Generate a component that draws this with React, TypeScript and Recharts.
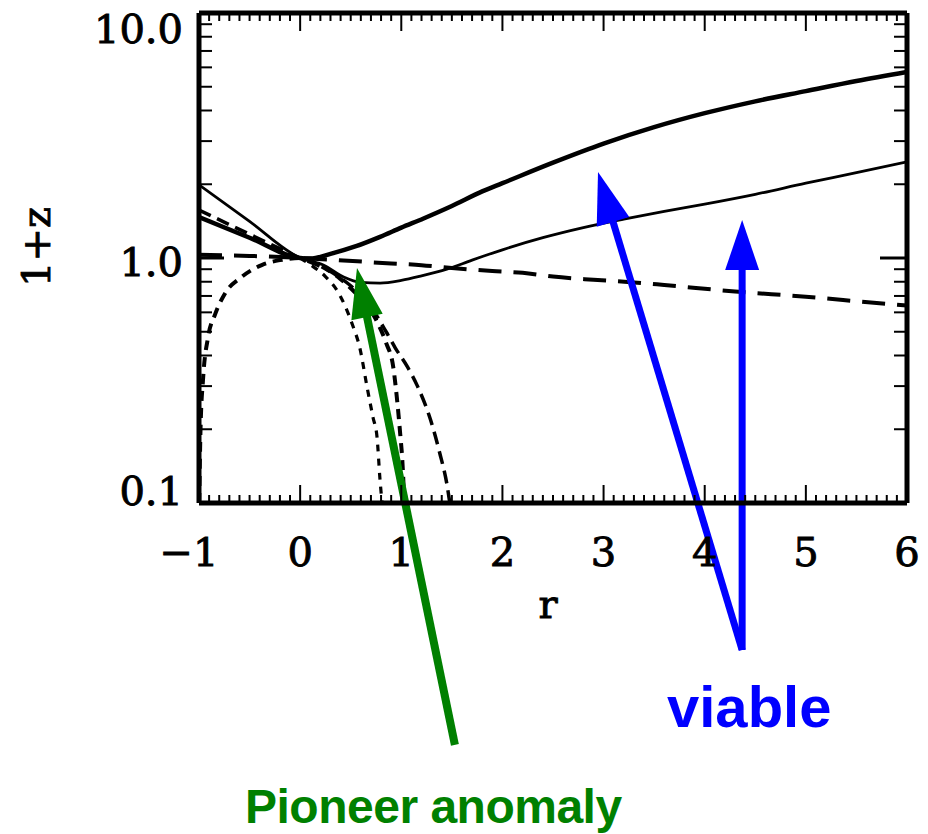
import React from 'react';
import { LineChart, Line, XAxis, YAxis, ReferenceLine } from 'recharts';

// ---- data (r, 1+z) ----
const thickSolid = [
  { r: -1, v: 1.47 }, { r: -0.5, v: 1.21 }, { r: 0, v: 1.0 }, { r: 0.1, v: 0.995 },
  { r: 0.3, v: 1.04 }, { r: 0.56, v: 1.12 }, { r: 0.79, v: 1.22 }, { r: 1.0, v: 1.33 },
  { r: 1.22, v: 1.45 }, { r: 1.5, v: 1.63 }, { r: 1.8, v: 1.87 }, { r: 2.0, v: 2.02 },
  { r: 2.5, v: 2.45 }, { r: 3.0, v: 2.93 }, { r: 3.5, v: 3.42 }, { r: 4.0, v: 3.9 },
  { r: 4.5, v: 4.36 }, { r: 5.0, v: 4.8 }, { r: 5.5, v: 5.28 }, { r: 6.0, v: 5.75 },
];
const thinSolid = [
  { r: -1, v: 1.99 }, { r: -0.5, v: 1.41 }, { r: 0, v: 1.0 }, { r: 0.23, v: 0.937 },
  { r: 0.43, v: 0.836 }, { r: 0.6, v: 0.795 }, { r: 0.79, v: 0.79 }, { r: 1.0, v: 0.81 },
  { r: 1.2, v: 0.845 }, { r: 1.45, v: 0.9 }, { r: 1.7, v: 0.98 }, { r: 2.0, v: 1.08 },
  { r: 2.4, v: 1.21 }, { r: 2.8, v: 1.33 }, { r: 3.2, v: 1.44 }, { r: 3.6, v: 1.55 },
  { r: 4.0, v: 1.66 }, { r: 4.5, v: 1.82 }, { r: 5.0, v: 2.02 }, { r: 5.5, v: 2.23 },
  { r: 6.0, v: 2.47 },
];
const flatDash = [
  { r: -1, v: 1.03 }, { r: -0.5, v: 1.02 }, { r: 0, v: 1.0 }, { r: 0.38, v: 0.98 },
  { r: 0.9, v: 0.95 }, { r: 1.2, v: 0.935 }, { r: 1.5, v: 0.91 }, { r: 1.9, v: 0.885 },
  { r: 2.2, v: 0.87 }, { r: 2.5, v: 0.84 }, { r: 2.9, v: 0.815 }, { r: 3.3, v: 0.795 },
  { r: 3.6, v: 0.776 }, { r: 4.3, v: 0.73 }, { r: 5.0, v: 0.695 }, { r: 5.7, v: 0.655 },
  { r: 6.0, v: 0.64 },
];
const shortDash = [
  { r: 0, v: 1.0 }, { r: 0.1, v: 0.94 }, { r: 0.25, v: 0.84 }, { r: 0.38, v: 0.72 },
  { r: 0.52, v: 0.53 }, { r: 0.59, v: 0.43 }, { r: 0.66, v: 0.3 }, { r: 0.72, v: 0.224 },
  { r: 0.76, v: 0.186 }, { r: 0.79, v: 0.124 }, { r: 0.81, v: 0.1 },
];
const mediumDash = [
  { r: -0.998, v: 0.1 }, { r: -0.985, v: 0.2 }, { r: -0.96, v: 0.32 }, { r: -0.91, v: 0.476 },
  { r: -0.84, v: 0.59 }, { r: -0.74, v: 0.72 }, { r: -0.58, v: 0.836 }, { r: -0.38, v: 0.936 },
  { r: -0.2, v: 0.98 }, { r: 0, v: 1.0 }, { r: 0.2, v: 0.93 }, { r: 0.4, v: 0.82 },
  { r: 0.6, v: 0.68 }, { r: 0.75, v: 0.56 }, { r: 0.85, v: 0.45 }, { r: 0.92, v: 0.36 },
  { r: 0.96, v: 0.26 }, { r: 0.99, v: 0.19 }, { r: 1.01, v: 0.15 }, { r: 1.03, v: 0.1 },
];
const longDash = [
  { r: -1, v: 1.57 }, { r: -0.5, v: 1.25 }, { r: 0, v: 1.0 }, { r: 0.3, v: 0.88 },
  { r: 0.5, v: 0.77 }, { r: 0.7, v: 0.63 }, { r: 0.85, v: 0.5 }, { r: 0.94, v: 0.43 },
  { r: 1.06, v: 0.36 }, { r: 1.16, v: 0.3 }, { r: 1.29, v: 0.218 }, { r: 1.38, v: 0.16 },
  { r: 1.45, v: 0.12 }, { r: 1.48, v: 0.1 },
];

// ---- ticks ----
const xMajorTicks = [-1, 0, 1, 2, 3, 4, 5, 6];
const xMajorLabels = ['\u22121', '0', '1', '2', '3', '4', '5', '6'];
const xMinorTicks = [
  -0.9, -0.8, -0.7, -0.6, -0.5, -0.4, -0.3, -0.2, -0.1,
  0.1, 0.2, 0.3, 0.4, 0.5, 0.6, 0.7, 0.8, 0.9,
  1.1, 1.2, 1.3, 1.4, 1.5, 1.6, 1.7, 1.8, 1.9,
  2.1, 2.2, 2.3, 2.4, 2.5, 2.6, 2.7, 2.8, 2.9,
  3.1, 3.2, 3.3, 3.4, 3.5, 3.6, 3.7, 3.8, 3.9,
  4.1, 4.2, 4.3, 4.4, 4.5, 4.6, 4.7, 4.8, 4.9,
  5.1, 5.2, 5.3, 5.4, 5.5, 5.6, 5.7, 5.8, 5.9,
];
const yMajorTicks = [0.1, 1, 10];
const yMajorLabels = ['0.1', '1.0', '10.0'];
const yMinorTicks = [0.2, 0.3, 0.4, 0.5, 0.6, 0.7, 0.8, 0.9, 2, 3, 4, 5, 6, 7, 8, 9];

// ---- annotations (data coordinates: tail -> tip) ----
const greenArrow = [{ x: 1.53, y: 0.0103 }, { x: 0.562, y: 0.91 }];
const blueArrowDiag = [{ x: 4.37, y: 0.0251 }, { x: 2.945, y: 2.244 }];
const blueArrowVert = [{ x: 4.37, y: 0.0251 }, { x: 4.37, y: 1.429 }];

const SERIF = '"DejaVu Serif", "Liberation Serif", serif';
const SANS = '"Liberation Sans", Arial, Helvetica, sans-serif';
const GREEN = '#008000';
const BLUE = '#0000ff';

const Empty = () => <g />;

const XTick = (props: any) => {
  const { x, y, payload } = props;
  const i = xMajorTicks.indexOf(payload.value);
  const label = i >= 0 ? xMajorLabels[i] : '';
  const dx = payload.value < 0 ? -10 : 0;
  return (
    <text x={x + dx} y={y} textAnchor="middle" fontFamily={SERIF}
      fontSize={40} fill="#000" stroke="#000" strokeWidth={0.9}>{label}</text>
  );
};

const YTick = (props: any) => {
  const { x, y, payload } = props;
  const v = payload.value;
  const i = yMajorTicks.indexOf(v);
  const label = i >= 0 ? yMajorLabels[i] : '';
  const dy = v === 10 ? 30 : v === 0.1 ? 2 : 18;
  return (
    <text x={x} y={y + dy} textAnchor="end" fontFamily={SERIF}
      fontSize={40} fill="#000" stroke="#000" strokeWidth={0.9}>{label}</text>
  );
};

const makeArrow = (color: string, shaft: number, headL: number, headW: number) => (props: any) => {
  const { x1, y1, x2, y2 } = props;
  const dx = x2 - x1;
  const dy = y2 - y1;
  const len = Math.hypot(dx, dy) || 1;
  const ux = dx / len;
  const uy = dy / len;
  const px = -uy;
  const py = ux;
  const bx = x2 - ux * headL;
  const by = y2 - uy * headL;
  return (
    <g>
      <line x1={x1} y1={y1} x2={bx + ux * 2} y2={by + uy * 2} stroke={color} strokeWidth={shaft} />
      <polygon
        points={`${x2},${y2} ${bx + px * headW},${by + py * headW} ${bx - px * headW},${by - py * headW}`}
        fill={color}
      />
    </g>
  );
};

export default function App() {
  const common = {
    xAxisId: 'x',
    yAxisId: 'y',
    dataKey: 'v',
    dot: false,
    activeDot: false,
    isAnimationActive: false,
    stroke: '#000',
    type: 'monotone' as const,
  };
  const tl2 = { stroke: '#000', strokeWidth: 2 };
  const tl3 = { stroke: '#000', strokeWidth: 3 };
  const frame = { stroke: '#000', strokeWidth: 5 };
  return (
    <div style={{ position: 'absolute', left: 0, top: 0, width: 928, height: 834 }}>
      <LineChart width={928} height={834} margin={{ top: 11, right: 19, bottom: 329, left: 197 }}>
        {/* major axes (frame) */}
        <XAxis xAxisId="x" orientation="bottom" type="number" dataKey="r" domain={[-1, 6]}
          allowDataOverflow ticks={xMajorTicks} interval={0} tickSize={-18} tickMargin={81} height={1}
          axisLine={frame} tickLine={tl2} tick={XTick} />
        <XAxis xAxisId="xt" orientation="top" type="number" dataKey="r" domain={[-1, 6]}
          allowDataOverflow ticks={xMajorTicks} interval={0} tickSize={-18} height={1}
          axisLine={frame} tickLine={tl2} tick={Empty} />
        <YAxis yAxisId="y" orientation="left" scale="log" domain={[0.1, 10]} allowDataOverflow
          ticks={yMajorTicks} interval={0} tickSize={-25} tickMargin={41} width={1}
          axisLine={frame} tickLine={tl3} tick={YTick} />
        <YAxis yAxisId="yr" orientation="right" scale="log" domain={[0.1, 10]} allowDataOverflow
          ticks={yMajorTicks} interval={0} tickSize={-27} width={1}
          axisLine={frame} tickLine={tl3} tick={Empty} />
        {/* minor ticks */}
        <XAxis xAxisId="xb2" orientation="bottom" type="number" dataKey="r" domain={[-1, 6]}
          allowDataOverflow ticks={xMinorTicks} interval={0} tickSize={-9} height={1}
          axisLine={false} tickLine={tl2} tick={Empty} />
        <XAxis xAxisId="xt2" orientation="top" type="number" dataKey="r" domain={[-1, 6]}
          allowDataOverflow ticks={xMinorTicks} interval={0} tickSize={-9} height={1}
          axisLine={false} tickLine={tl2} tick={Empty} />
        <YAxis yAxisId="yl2" orientation="left" scale="log" domain={[0.1, 10]} allowDataOverflow
          ticks={yMinorTicks} interval={0} tickSize={-14} width={1} axisLine={false}
          tickLine={tl2} tick={Empty} />
        <YAxis yAxisId="yr2" orientation="right" scale="log" domain={[0.1, 10]} allowDataOverflow
          ticks={yMinorTicks} interval={0} tickSize={-14} width={1} axisLine={false}
          tickLine={tl2} tick={Empty} />

        <Line {...common} data={thickSolid} strokeWidth={4.5} />
        <Line {...common} data={thinSolid} strokeWidth={2.8} />
        <Line {...common} data={flatDash} strokeWidth={4} strokeDasharray="23 12" />
        <Line {...common} data={longDash} strokeWidth={3.5} strokeDasharray="13 7" />
        <Line {...common} data={mediumDash} strokeWidth={4} strokeDasharray="10 7" />
        <Line {...common} data={shortDash} strokeWidth={3.2} strokeDasharray="7 7" />

        <ReferenceLine xAxisId="x" yAxisId="y" segment={greenArrow} ifOverflow="visible"
          shape={makeArrow(GREEN, 8, 50, 16)} />
        <ReferenceLine xAxisId="x" yAxisId="y" segment={blueArrowDiag} ifOverflow="visible"
          shape={makeArrow(BLUE, 7, 52, 17)} />
        <ReferenceLine xAxisId="x" yAxisId="y" segment={blueArrowVert} ifOverflow="visible"
          shape={makeArrow(BLUE, 7, 50, 17)} />

        <text x={548} y={618} textAnchor="middle" fontFamily={SERIF}
          fontSize={40} fill="#000" stroke="#000" strokeWidth={0.9}>r</text>
        <text x={36} y={247} transform="rotate(-90 36 247)" textAnchor="middle"
          dominantBaseline="central" fontFamily={SERIF} fontSize={40}
          fill="#000" stroke="#000" strokeWidth={0.9}>1+z</text>
        <text x={667} y={727} fontFamily={SANS} fontWeight="bold" fontSize={58} fill={BLUE}>viable</text>
        <text x={245} y={823} fontFamily={SANS} fontWeight="bold" fontSize={48} fill={GREEN}
          letterSpacing={-0.5}>Pioneer anomaly</text>
      </LineChart>
    </div>
  );
}
